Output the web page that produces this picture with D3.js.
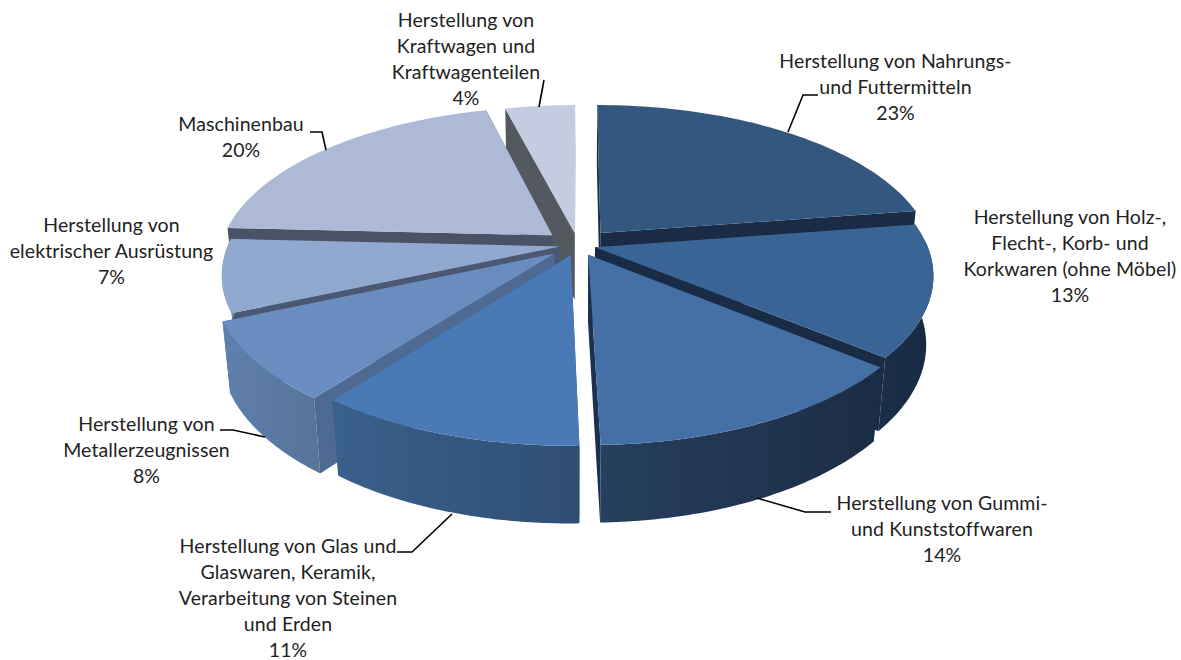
<!DOCTYPE html>
<html><head><meta charset="utf-8">
<script src="https://cdn.jsdelivr.net/npm/d3@7"></script>
<style>html,body{margin:0;padding:0;background:#fff}svg{display:block}text{font-family:Lato,"Open Sans",sans-serif;font-size:19.5px;letter-spacing:.1px;fill:#222}</style>
</head><body><svg id="c" width="1181" height="660"></svg>
<script>
const categories=["Nahrung","Holz","Gummi","Glas","Metall","Elektro","Maschinen","Kraftwagen"];
const values=[22.6,13.4,13.6,10.8,8,7.4,20.2,4];
const percentLabels=["23%","13%","14%","11%","8%","7%","20%","4%"];
const labelLines=[
 ["Herstellung von Nahrungs-","und Futtermitteln"],
 ["Herstellung von Holz-,","Flecht-, Korb- und","Korkwaren (ohne Möbel)"],
 ["Herstellung von Gummi-","und Kunststoffwaren"],
 ["Herstellung von Glas und","Glaswaren, Keramik,","Verarbeitung von Steinen","und Erden"],
 ["Herstellung von","Metallerzeugnissen"],
 ["Herstellung von","elektrischer Ausrüstung"],
 ["Maschinenbau"],
 ["Herstellung von","Kraftwagen und","Kraftwagenteilen"]];
const explode=[.105,.053,.07,.07,.09,.055,.1,.08];
const topColors=["#34577f","#3a6496","#4470a6","#4a7ab5","#6a8dc0","#92a9cf","#acbad6","#c3cce0"];
const sideColors=[["#1d3050","#1a2b44"],["#1a2e49","#182a42"],["#26405f","#1b2c45"],["#3a608c","#2f4e73"],["#5f80ad","#557599"],["#7c93b8","#7088ad"],["#8b99b5","#8b99b5"],["#9aa5bb","#9aa5bb"]];
const faceColors=["#1a2b45","#1a2b45","#1c3050","#3d5a80","#4e6a92","#4b5872","#4a5365","#54585f"];
const labelPos=[[895.5,62],[1070,218],[942,504],[288,547],[146.5,425],[111.5,226],[241,125],[466,21]];
const leaders=[[[788,132],[803,95],[818,95]],null,[[757,498],[805,512],[831,512]],[[452,514],[412,552],[397,552]],[[265,437],[233,430],[220,430]],null,[[326,150],[322,132],[310,132]],[[539,107],[544,80]]];

const cx=578,cy=245,Rx=332,Ry=153.7,Zh=69,k=.172,m=.02,lineH=26;
const svg=d3.select("#c"),defs=svg.append("defs");
const pie=d3.pie().sort(null).value(d=>d)(values);
const line=d3.line();
function proj(X,Y,z){const d=1+k*Y+m*z;return [cx+Rx*X/d,cy+(-Ry*Y+Zh*z)/d];}
const slices=pie.map((p,i)=>{
 const mid=(p.startAngle+p.endAngle)/2,e=explode[i];
 const ox=e*Math.sin(mid),oy=e*Math.cos(mid);
 const P=(a,r,z)=>proj(ox+r*Math.sin(a),oy+r*Math.cos(a),z);
 const angs=d3.range(0,61).map(t=>p.startAngle+(p.endAngle-p.startAngle)*t/60);
 return {i,mid,P,angs,start:p.startAngle,end:p.endAngle};
});
slices.forEach(s=>{
 const ext=d3.extent(s.angs,a=>s.P(a,1,0)[0]);
 const g=defs.append("linearGradient").attr("id","g"+s.i).attr("gradientUnits","userSpaceOnUse")
  .attr("x1",ext[0]).attr("x2",ext[1]).attr("y1",0).attr("y2",0);
 g.append("stop").attr("offset",0).attr("stop-color",sideColors[s.i][0]);
 g.append("stop").attr("offset",1).attr("stop-color",sideColors[s.i][1]);
});
const order=[...slices].sort((a,b)=>Math.cos(b.mid)-Math.cos(a.mid));
const root=svg.append("g");
order.forEach(s=>{
 const g=root.append("g");
 const face=a=>line([s.P(0,0,0),s.P(a,1,0),s.P(a,1,1),s.P(0,0,1)])+"Z";
 g.append("path").attr("d",face(s.start)).attr("fill",faceColors[s.i]);
 g.append("path").attr("d",face(s.end)).attr("fill",faceColors[s.i]);
 const vis=s.angs.filter(a=>Math.cos(a)<.05);
 if(vis.length>1){
  const rim=vis.map(a=>s.P(a,1,0)).concat(vis.slice().reverse().map(a=>s.P(a,1,1)));
  g.append("path").attr("d",line(rim)+"Z").attr("fill","url(#g"+s.i+")");
 }
 g.append("path").attr("d",line([s.P(0,0,0),...s.angs.map(a=>s.P(a,1,0))])+"Z").attr("fill",topColors[s.i]);
});
leaders.forEach(l=>{if(l)svg.append("path").attr("d",line(l)).attr("fill","none").attr("stroke","#000").attr("stroke-width",1.6);});
labelLines.forEach((ls,i)=>{
 const t=svg.append("text").attr("text-anchor","middle");
 [...ls,percentLabels[i]].forEach((s,j)=>t.append("tspan").attr("x",labelPos[i][0]).attr("y",labelPos[i][1]+6+j*lineH).text(s));
});
</script></body></html>
